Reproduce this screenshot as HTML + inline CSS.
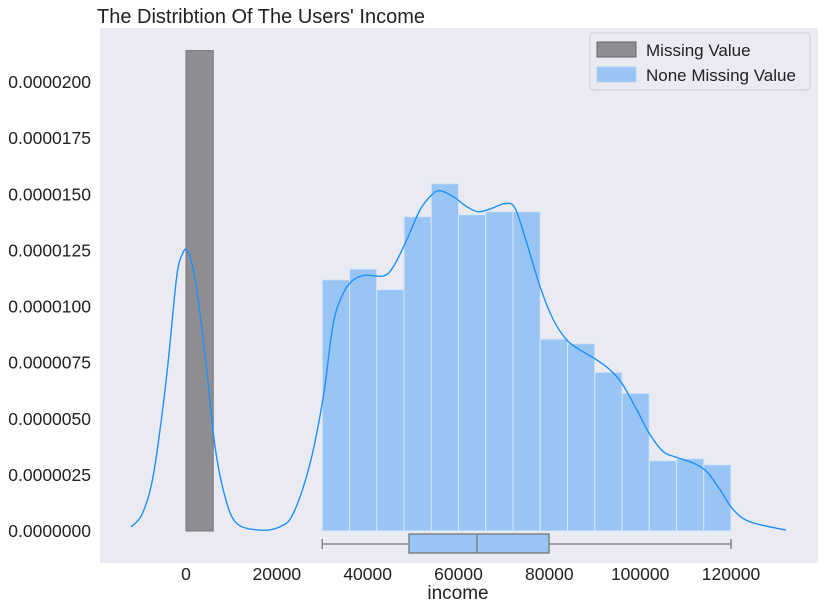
<!DOCTYPE html>
<html><head><meta charset="utf-8"><style>
body{margin:0;background:#fff;width:830px;height:609px;overflow:hidden;font-family:"Liberation Sans",sans-serif}
</style></head><body>
<svg id="chart" width="830" height="609" xmlns="http://www.w3.org/2000/svg">
<text x="97" y="23" font-size="20" fill="#222">The Distribtion Of The Users' Income</text>
<rect x="100" y="28" width="718" height="535" fill="#eaeaf2"/>
<g id="marks"></g>
<g id="axes"></g>
<g>
<rect x="590" y="33" width="220" height="57" rx="3" fill="#eaeaf2" stroke="#ccc"/>
<rect x="597" y="42" width="39" height="15" fill="#8e8e92" stroke="#666"/>
<text x="646" y="56" font-size="17" fill="#222">Missing Value</text>
<rect x="597" y="67" width="39" height="15" fill="#99c5f5" stroke="#aed0f5"/>
<text x="646" y="81" font-size="17" fill="#222">None Missing Value</text>
</g>
<text x="458" y="599" font-size="19" text-anchor="middle" fill="#222">income</text>
</svg>
<script>
const binStart = 30000;
const binWidth = 6000;
const histValues = [1.119,1.167,1.075,1.400,1.547,1.409,1.422,1.422,0.855,0.834,0.707,0.613,0.313,0.322,0.295];
const missingBin = [0, 6000, 2.14];
const kdeX = [-12100,-9760,-7550,-5720,-3890,-2050,-730,290,1610,3080,4550,6390,8590,11160,16300,20700,23630,27300,30230,32430,34640,36840,39410,43440,45640,48590,51520,54110,55930,58860,61800,64370,67300,70280,72480,75050,77960,80900,83850,86790,90460,93400,95970,99270,102200,105140,108080,111750,114680,117620,120550,124200,132100];
const kdeY = [0.018,0.071,0.212,0.45,0.76,1.133,1.237,1.249,1.163,0.97,0.717,0.376,0.153,0.034,0.004,0.019,0.079,0.30,0.598,0.925,1.059,1.118,1.139,1.136,1.177,1.296,1.43,1.497,1.516,1.489,1.445,1.422,1.437,1.459,1.437,1.281,1.088,0.94,0.851,0.806,0.762,0.717,0.658,0.539,0.428,0.353,0.328,0.302,0.264,0.183,0.094,0.041,0.004];
const boxStats = [30000, 49100, 64070, 79930, 120000];
const xTicks = [0,20000,40000,60000,80000,100000,120000];
const yTicks = [0,0.25,0.5,0.75,1.0,1.25,1.5,1.75,2.0];
const yTickLabels = ["0.0000000","0.0000025","0.0000050","0.0000075","0.0000100","0.0000125","0.0000150","0.0000175","0.0000200"];

const NS="http://www.w3.org/2000/svg";
const xs = v => 186 + v/120000*545;
const ys = v => 531 - v/2.0*449;
function mk(tag, attrs, parent){const e=document.createElementNS(NS,tag);for(const k in attrs)e.setAttribute(k,attrs[k]);parent.appendChild(e);return e;}
const marks=document.getElementById('marks'), axes=document.getElementById('axes');

let r=mk('rect',{x:xs(missingBin[0]),y:ys(missingBin[2]),width:xs(missingBin[1])-xs(missingBin[0]),height:ys(0)-ys(missingBin[2]),fill:'#8e8e92',stroke:'#777','stroke-width':1},marks);



histValues.forEach((v,i)=>{
  const x0=xs(binStart+i*binWidth), x1=xs(binStart+(i+1)*binWidth);
  const b=mk('rect',{x:x0,y:ys(v),width:x1-x0,height:ys(0)-ys(v),fill:'#99c5f5',stroke:'#d6e6f8','stroke-width':1},marks);
  
  
});

const P=kdeX.map((x,i)=>[xs(x),ys(kdeY[i])]);
let d='M'+P[0][0].toFixed(1)+' '+P[0][1].toFixed(1);
for(let i=0;i<P.length-1;i++){
  const p0=P[Math.max(0,i-1)],p1=P[i],p2=P[i+1],p3=P[Math.min(P.length-1,i+2)];
  const c1=[p1[0]+(p2[0]-p0[0])/6,p1[1]+(p2[1]-p0[1])/6];
  const c2=[p2[0]-(p3[0]-p1[0])/6,p2[1]-(p3[1]-p1[1])/6];
  d+=' C'+c1[0].toFixed(1)+' '+c1[1].toFixed(1)+' '+c2[0].toFixed(1)+' '+c2[1].toFixed(1)+' '+p2[0].toFixed(1)+' '+p2[1].toFixed(1);
}
const k=mk('path',{d:d,fill:'none',stroke:'#1e90ff','stroke-width':1.4,'stroke-linejoin':'round'},marks);



const by=544;
const wl=mk('line',{x1:xs(boxStats[0]),x2:xs(boxStats[1]),y1:by,y2:by,stroke:'#777','stroke-width':1.3},marks);


const wr=mk('line',{x1:xs(boxStats[3]),x2:xs(boxStats[4]),y1:by,y2:by,stroke:'#777','stroke-width':1.3},marks);


[0,4].forEach(i=>{
  const c=mk('line',{x1:xs(boxStats[i]),x2:xs(boxStats[i]),y1:by-5,y2:by+5,stroke:'#777','stroke-width':1.3},marks);
  
  
});
const bx=mk('rect',{x:xs(boxStats[1]),y:534,width:xs(boxStats[3])-xs(boxStats[1]),height:19,fill:'#99c5f5',stroke:'#777','stroke-width':1.3},marks);


const md=mk('line',{x1:xs(boxStats[2]),x2:xs(boxStats[2]),y1:534,y2:553,stroke:'#777','stroke-width':1.3},marks);



xTicks.forEach(t=>{
  const tx=mk('text',{x:xs(t),y:580,'font-size':17.5,'text-anchor':'middle',fill:'#222'},axes);
  tx.textContent=t;
  
  
});
yTicks.forEach((t,i)=>{
  const ty=mk('text',{x:91,y:ys(t)+6,'font-size':17.5,'text-anchor':'end',fill:'#222'},axes);
  ty.textContent=yTickLabels[i];
  
  
});
</script>
</body></html>
